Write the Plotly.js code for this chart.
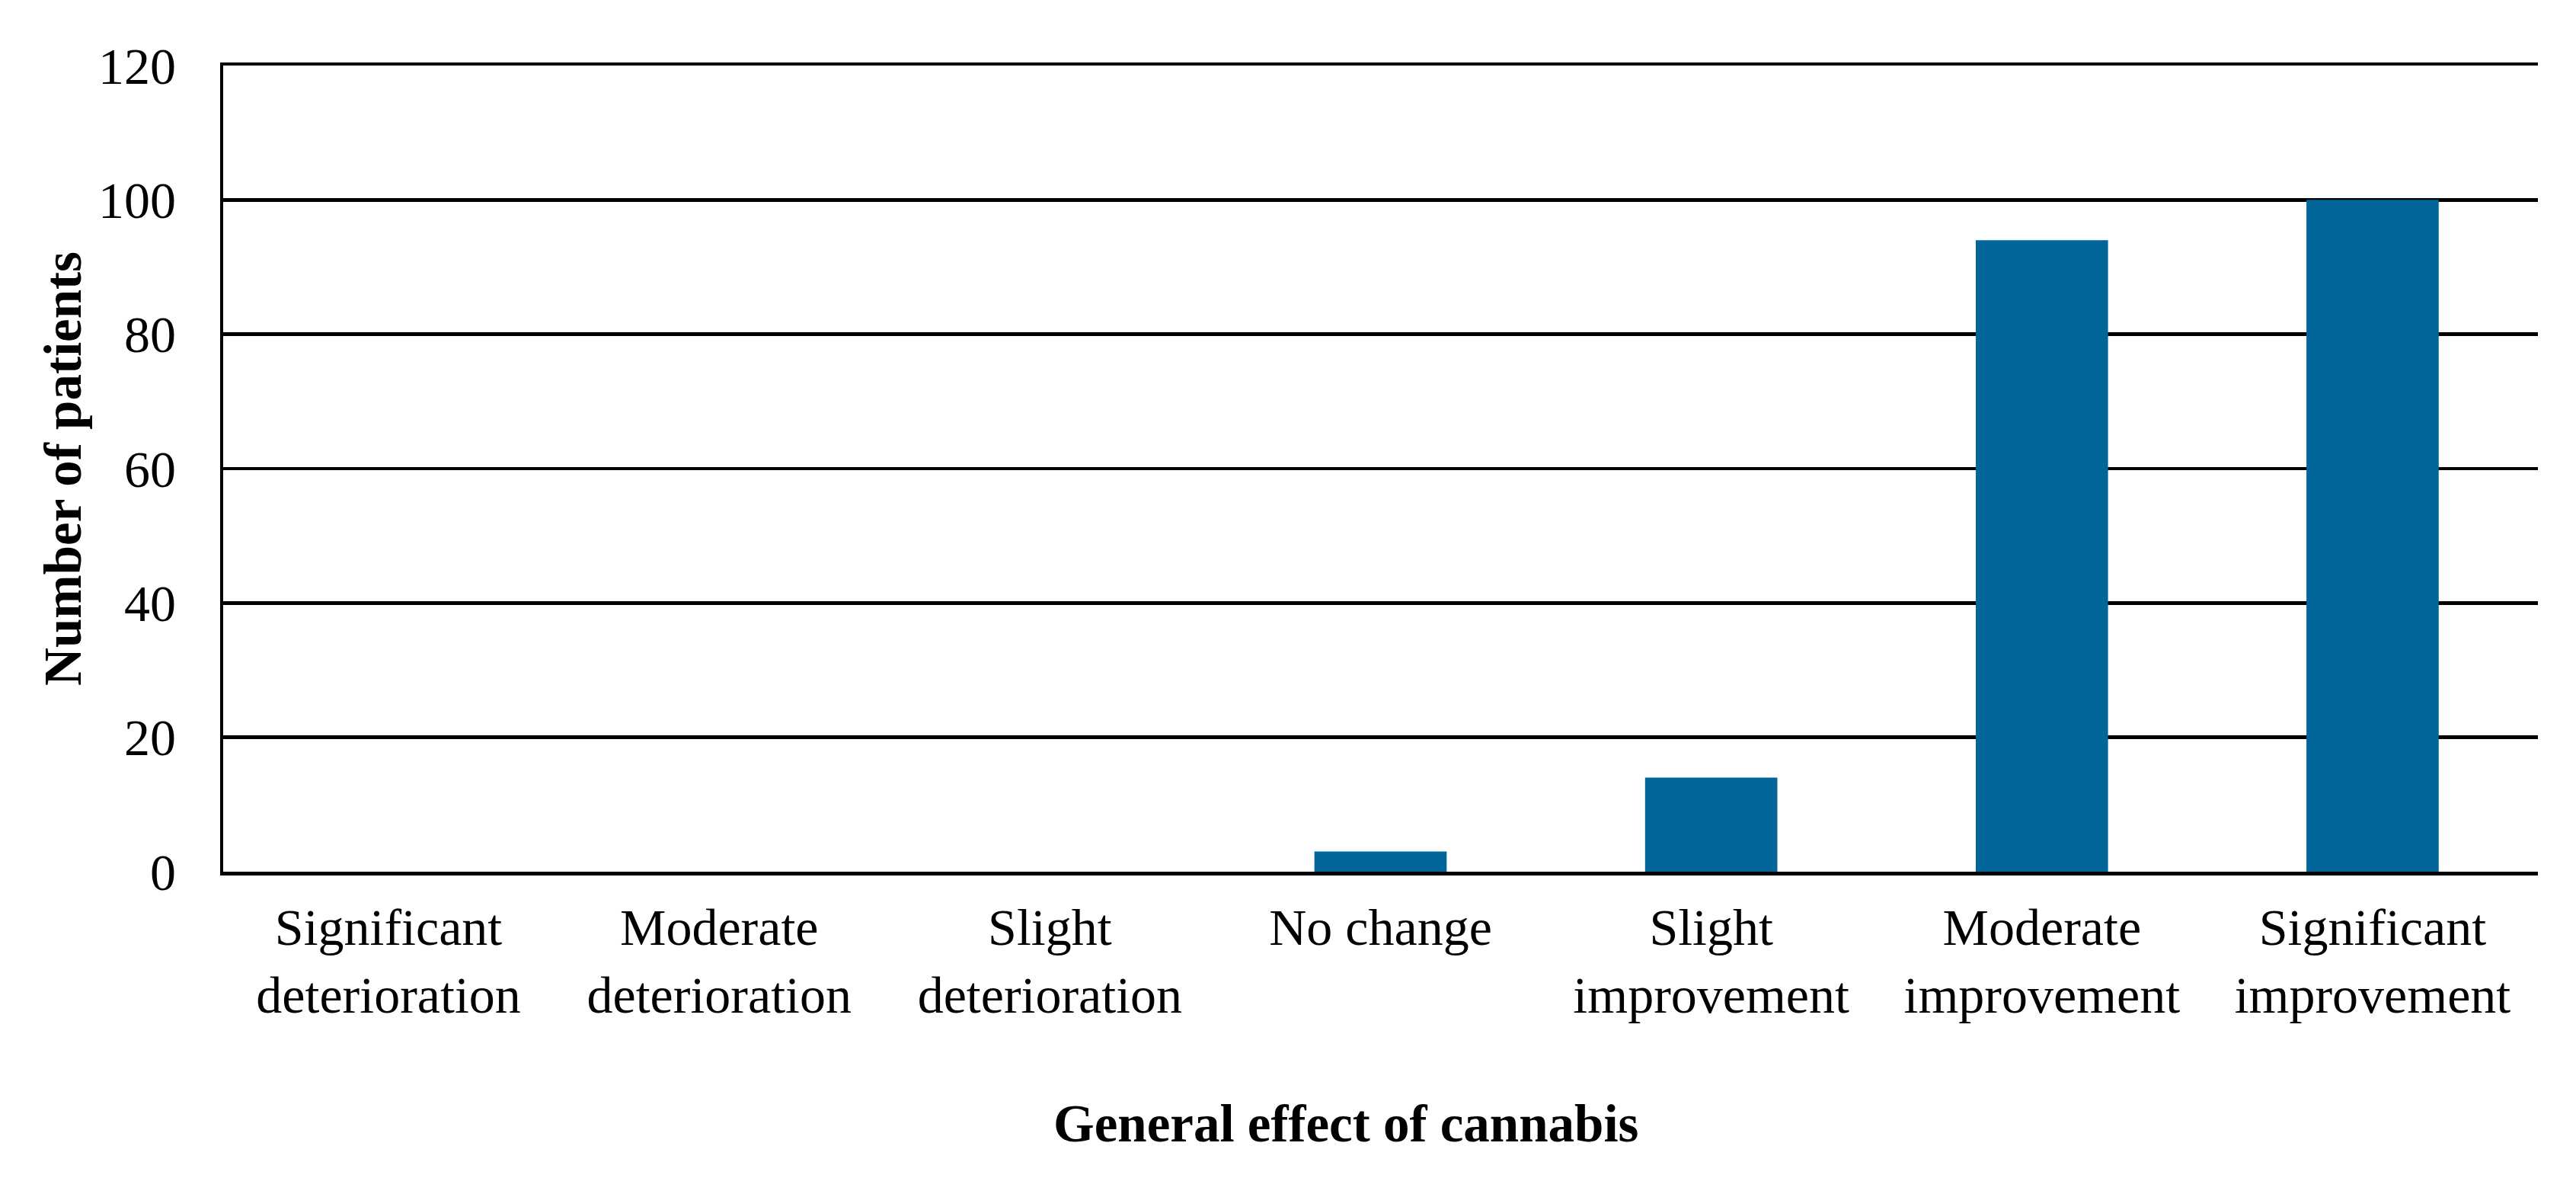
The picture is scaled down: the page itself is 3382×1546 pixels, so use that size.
<!DOCTYPE html>
<html>
<head>
<meta charset="utf-8">
<script src="https://cdn.plot.ly/plotly-3.0.1.min.js"></script>
<style>
  body { margin: 0; background: #fff; }
  #chart { width: 3382px; height: 1546px; }
</style>
</head>
<body>
<div id="chart"></div>
<script>
// effect categories and patient counts
const effects = [
    "Significant<br>deterioration",
    "Moderate<br>deterioration",
    "Slight<br>deterioration",
    "No change",
    "Slight<br>improvement",
    "Moderate<br>improvement",
    "Significant<br>improvement"
];
const patients = [0, 0, 0, 3, 14, 94, 100];
const yTicks = [0, 20, 40, 60, 80, 100, 120];

const xTitle = "General effect of cannabis";
const yTitle = "Number of patients";

const serif = "Liberation Serif, Times New Roman, serif";
const lineW = 4.5;

const data = [{
    type: "bar",
    x: effects,
    y: patients,
    width: 0.4,
    marker: { color: "#02669a" },
    hoverinfo: "x+y"
}];

const layout = {
    width: 3382,
    height: 1546,
    margin: { l: 293, r: 50, t: 86, b: 402 },
    paper_bgcolor: "#fff",
    plot_bgcolor: "#fff",
    showlegend: false,
    font: { family: serif, size: 68, color: "#000" },
    xaxis: {
        type: "category",
        showgrid: false,
        zeroline: false,
        showline: true,
        mirror: true,
        linecolor: "#000",
        linewidth: lineW,
        ticks: "",
        ticklabelstandoff: 10,
        tickfont: { family: serif, size: 68, color: "#000" }
    },
    yaxis: {
        range: [0, 120],
        tickvals: yTicks,
        showgrid: true,
        gridcolor: "#000",
        gridwidth: lineW,
        zeroline: false,
        showline: true,
        linecolor: "#000",
        linewidth: lineW,
        ticks: "",
        ticklabelstandoff: 44,
        tickfont: { family: serif, size: 68, color: "#000" },
        title: {
            text: "<b>" + yTitle + "</b>",
            font: { family: serif, size: 69, color: "#000" },
            standoff: 1
        }
    },
    // x title sits a little left of the plot centre in the original
    annotations: [{
        text: "<b>" + xTitle + "</b>",
        xref: "paper",
        yref: "paper",
        x: 0.485,
        y: -0.313,
        xanchor: "center",
        yanchor: "middle",
        showarrow: false,
        font: { family: serif, size: 69, color: "#000" }
    }]
};

Plotly.newPlot("chart", data, layout, { displayModeBar: false, staticPlot: true });
</script>
</body>
</html>
